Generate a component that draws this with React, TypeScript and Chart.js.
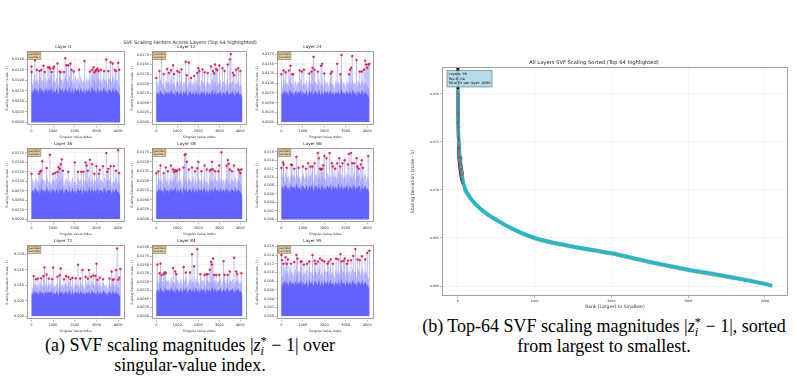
import React, { useEffect, useRef } from "react";
import { Chart, registerables } from "chart.js";
Chart.register(...registerables);

const SANS = "'DejaVu Sans', sans-serif";
const SERIF = "'Liberation Serif', 'Times New Roman', serif";

// ---------------- data ----------------
const LAYER_NAMES = ["Layer 0", "Layer 12", "Layer 24", "Layer 36", "Layer 48", "Layer 66", "Layer 72", "Layer 84", "Layer 95"];
const X_TICKS = [0, 1000, 2000, 3000, 4000];

const L0_IDX = [0, 10, 160, 250, 370, 450, 560, 620, 760, 820, 870, 930, 1000, 1050, 1200, 1300, 1350, 1500, 1560, 1620, 1700, 1800, 1850, 1950, 2200, 2450, 2700, 2800, 2870, 2900, 2950, 3000, 3050, 3100, 3200, 3350, 3450, 3550, 3650, 3750, 3850, 3900, 4000, 4050];
const L0_VAL = [0.0133, 0.0120, 0.0148, 0.0125, 0.0122, 0.0125, 0.0135, 0.0120, 0.0131, 0.0131, 0.0128, 0.0120, 0.0129, 0.0133, 0.0140, 0.0121, 0.0119, 0.0120, 0.0153, 0.0136, 0.0136, 0.0140, 0.0125, 0.0121, 0.0125, 0.0146, 0.0121, 0.0125, 0.0131, 0.0119, 0.0122, 0.0125, 0.0128, 0.0122, 0.0125, 0.0122, 0.0150, 0.0122, 0.0143, 0.0140, 0.0125, 0.0122, 0.0142, 0.0125];

const L12_IDX = [0, 150, 250, 350, 520, 600, 700, 800, 850, 1000, 1100, 1200, 1400, 1450, 1550, 1650, 1800, 1950, 2000, 2050, 2200, 2300, 2450, 2600, 2700, 2750, 2800, 2850, 2900, 3000, 3150, 3250, 3400, 3500, 3550, 3650, 3700, 3800, 3900, 4000];
const L12_VAL = [0.0115, 0.0133, 0.0164, 0.0125, 0.0138, 0.0128, 0.0135, 0.0148, 0.0125, 0.0133, 0.0130, 0.0137, 0.0157, 0.0122, 0.0155, 0.0115, 0.0120, 0.0128, 0.0140, 0.0133, 0.0137, 0.0130, 0.0128, 0.0145, 0.0133, 0.0127, 0.0150, 0.0138, 0.0135, 0.0147, 0.0140, 0.0133, 0.0150, 0.0163, 0.0177, 0.0128, 0.0122, 0.0136, 0.0140, 0.0133];

const L24_IDX = [0, 100, 200, 350, 420, 500, 550, 850, 950, 1050, 1300, 1400, 1450, 1500, 1550, 1700, 1850, 1900, 2000, 2300, 2350, 2600, 2750, 2800, 3150, 3200, 3250, 3300, 3500, 3650, 3750, 3850, 3900, 3950, 4000, 4050, 4100];
const L24_VAL = [0.0123, 0.0133, 0.0128, 0.0133, 0.0145, 0.0123, 0.0123, 0.0133, 0.0130, 0.0135, 0.0125, 0.0130, 0.0140, 0.0168, 0.0135, 0.0130, 0.0145, 0.0150, 0.0125, 0.0125, 0.0130, 0.0150, 0.0123, 0.0173, 0.0123, 0.0135, 0.0140, 0.0170, 0.0160, 0.0130, 0.0130, 0.0135, 0.0158, 0.0148, 0.0140, 0.0148, 0.0150];

const L36_IDX = [0, 350, 400, 450, 500, 700, 850, 1000, 1100, 1200, 1250, 1300, 1350, 1400, 1450, 1700, 2000, 2150, 2300, 2400, 2500, 2550, 2600, 2700, 2800, 2900, 3000, 3100, 3150, 3300, 3450, 3500, 3550, 3650, 3800, 3900, 4000, 4050];
const L36_VAL = [0.0120, 0.0120, 0.0125, 0.0128, 0.0153, 0.0135, 0.0170, 0.0120, 0.0122, 0.0125, 0.0138, 0.0133, 0.0145, 0.0158, 0.0128, 0.0125, 0.0150, 0.0125, 0.0125, 0.0125, 0.0150, 0.0142, 0.0128, 0.0157, 0.0145, 0.0120, 0.0140, 0.0120, 0.0130, 0.0140, 0.0175, 0.0125, 0.0133, 0.0140, 0.0140, 0.0128, 0.0182, 0.0122];

const L48_IDX = [0, 100, 200, 350, 450, 550, 700, 800, 850, 900, 950, 1000, 1100, 1300, 1350, 1400, 1450, 1550, 1700, 1850, 1950, 2000, 2150, 2300, 2400, 2550, 2600, 2650, 2700, 2800, 2950, 3000, 3100, 3350, 3400, 3450, 3500, 3600, 3700, 3900, 3950, 4000, 4050];
const L48_VAL = [0.0120, 0.0125, 0.0140, 0.0120, 0.0135, 0.0125, 0.0140, 0.0130, 0.0123, 0.0128, 0.0125, 0.0127, 0.0130, 0.0135, 0.0168, 0.0170, 0.0150, 0.0130, 0.0135, 0.0125, 0.0133, 0.0150, 0.0125, 0.0140, 0.0130, 0.0127, 0.0130, 0.0150, 0.0130, 0.0125, 0.0125, 0.0140, 0.0175, 0.0140, 0.0155, 0.0145, 0.0130, 0.0125, 0.0140, 0.0130, 0.0127, 0.0120, 0.0130];

const L66_IDX = [0, 80, 100, 250, 450, 500, 600, 700, 800, 1000, 1150, 1250, 1350, 1450, 1550, 1700, 1750, 1800, 1850, 1900, 1950, 2000, 2100, 2250, 2350, 2400, 2500, 2600, 2700, 2750, 2850, 2950, 3100, 3150, 3250, 3300, 3400, 3500, 3550, 3600, 3700, 3750, 3800, 4050];
const L66_VAL = [0.0122, 0.0135, 0.0130, 0.0122, 0.0130, 0.0128, 0.0120, 0.0148, 0.0122, 0.0125, 0.0120, 0.0133, 0.0125, 0.0125, 0.0133, 0.0157, 0.0145, 0.0120, 0.0118, 0.0120, 0.0128, 0.0150, 0.0145, 0.0157, 0.0133, 0.0125, 0.0120, 0.0133, 0.0145, 0.0125, 0.0133, 0.0140, 0.0130, 0.0155, 0.0157, 0.0133, 0.0133, 0.0145, 0.0125, 0.0120, 0.0130, 0.0140, 0.0122, 0.0150];

const L72_IDX = [100, 200, 300, 450, 550, 600, 700, 800, 950, 1000, 1200, 1300, 1350, 1500, 1600, 1700, 1800, 1900, 2050, 2150, 2250, 2350, 2500, 2600, 2650, 2750, 2850, 2950, 3000, 3050, 3150, 3300, 3600, 3700, 3750, 3800, 3900, 3950, 4000, 4050, 4100];
const L72_VAL = [0.0130, 0.0120, 0.0122, 0.0123, 0.0130, 0.0158, 0.0135, 0.0122, 0.0120, 0.0158, 0.0128, 0.0133, 0.0155, 0.0120, 0.0130, 0.0127, 0.0120, 0.0125, 0.0123, 0.0167, 0.0122, 0.0150, 0.0128, 0.0122, 0.0150, 0.0128, 0.0132, 0.0130, 0.0170, 0.0118, 0.0125, 0.0120, 0.0122, 0.0145, 0.0118, 0.0120, 0.0150, 0.0220, 0.0118, 0.0125, 0.0153];

const L84_IDX = [50, 150, 200, 250, 350, 400, 450, 800, 900, 950, 1300, 1400, 1600, 1700, 1800, 1950, 2100, 2300, 2400, 2450, 2550, 2600, 2650, 2700, 2750, 2850, 3000, 3200, 3250, 3400, 3500, 3700, 3800, 3850, 4050];
const L84_VAL = [0.0150, 0.0125, 0.0153, 0.0120, 0.0122, 0.0128, 0.0125, 0.0140, 0.0130, 0.0122, 0.0143, 0.0127, 0.0127, 0.0180, 0.0145, 0.0195, 0.0122, 0.0120, 0.0122, 0.0122, 0.0135, 0.0158, 0.0150, 0.0168, 0.0120, 0.0120, 0.0120, 0.0160, 0.0120, 0.0120, 0.0130, 0.0170, 0.0130, 0.0122, 0.0125];

const L95_IDX = [0, 30, 100, 200, 250, 300, 450, 600, 700, 750, 900, 950, 1050, 1200, 1300, 1450, 1550, 1600, 1700, 1800, 1900, 2000, 2150, 2200, 2300, 2400, 2550, 2650, 2750, 2800, 2900, 2950, 3050, 3100, 3250, 3350, 3450, 3550, 3650, 3750, 3900, 4000, 4100];
const L95_VAL = [0.0140, 0.0128, 0.0120, 0.0135, 0.0120, 0.0130, 0.0120, 0.0124, 0.0140, 0.0132, 0.0125, 0.0125, 0.0118, 0.0120, 0.0125, 0.0140, 0.0127, 0.0120, 0.0125, 0.0132, 0.0128, 0.0125, 0.0120, 0.0125, 0.0130, 0.0120, 0.0132, 0.0130, 0.0142, 0.0125, 0.0127, 0.0132, 0.0120, 0.0127, 0.0128, 0.0138, 0.0154, 0.0130, 0.0128, 0.0137, 0.0130, 0.0145, 0.0150];

const TOP_IDX = [L0_IDX, L12_IDX, L24_IDX, L36_IDX, L48_IDX, L66_IDX, L72_IDX, L84_IDX, L95_IDX];
const TOP_VAL = [L0_VAL, L12_VAL, L24_VAL, L36_VAL, L48_VAL, L66_VAL, L72_VAL, L84_VAL, L95_VAL];

// dense magnitude body (upper light fringe and dark core), sampled across the index
const LIGHT_A = [0.0100, 0.0088, 0.0112, 0.0094, 0.0105, 0.0090, 0.0118, 0.0096, 0.0102, 0.0087, 0.0110, 0.0093, 0.0106, 0.0099, 0.0115, 0.0089, 0.0101, 0.0095, 0.0109, 0.0086, 0.0113, 0.0097, 0.0104, 0.0091, 0.0108, 0.0100, 0.0094, 0.0116, 0.0092, 0.0103, 0.0088, 0.0111, 0.0098, 0.0105, 0.0090, 0.0114, 0.0095, 0.0101, 0.0087, 0.0109, 0.0096, 0.0107, 0.0093, 0.0117, 0.0099, 0.0102, 0.0089, 0.0110, 0.0094, 0.0106, 0.0091, 0.0112, 0.0097, 0.0103, 0.0088, 0.0108, 0.0100, 0.0095, 0.0113, 0.0092, 0.0104, 0.0098, 0.0090, 0.0082];
const CORE_A = [0.0075, 0.0068, 0.0082, 0.0071, 0.0079, 0.0065, 0.0085, 0.0072, 0.0077, 0.0066, 0.0081, 0.0070, 0.0078, 0.0074, 0.0084, 0.0067, 0.0076, 0.0071, 0.0080, 0.0064, 0.0083, 0.0073, 0.0078, 0.0069, 0.0081, 0.0075, 0.0070, 0.0086, 0.0068, 0.0077, 0.0066, 0.0082, 0.0073, 0.0079, 0.0067, 0.0084, 0.0071, 0.0076, 0.0065, 0.0080, 0.0072, 0.0078, 0.0069, 0.0085, 0.0074, 0.0077, 0.0066, 0.0081, 0.0070, 0.0079, 0.0068, 0.0083, 0.0073, 0.0076, 0.0065, 0.0080, 0.0075, 0.0071, 0.0084, 0.0069, 0.0078, 0.0073, 0.0067, 0.0062];
const LIGHT_B = [0.0094, 0.0108, 0.0089, 0.0115, 0.0097, 0.0103, 0.0086, 0.0111, 0.0099, 0.0106, 0.0092, 0.0118, 0.0095, 0.0101, 0.0088, 0.0109, 0.0104, 0.0093, 0.0113, 0.0090, 0.0107, 0.0098, 0.0116, 0.0087, 0.0102, 0.0110, 0.0094, 0.0105, 0.0091, 0.0114, 0.0096, 0.0100, 0.0089, 0.0112, 0.0099, 0.0106, 0.0085, 0.0110, 0.0097, 0.0103, 0.0092, 0.0117, 0.0095, 0.0108, 0.0090, 0.0104, 0.0098, 0.0113, 0.0088, 0.0107, 0.0101, 0.0094, 0.0115, 0.0091, 0.0105, 0.0099, 0.0110, 0.0087, 0.0103, 0.0096, 0.0112, 0.0093, 0.0100, 0.0084];
const CORE_B = [0.0069, 0.0079, 0.0066, 0.0084, 0.0071, 0.0076, 0.0064, 0.0082, 0.0073, 0.0078, 0.0068, 0.0086, 0.0070, 0.0075, 0.0065, 0.0080, 0.0077, 0.0068, 0.0083, 0.0067, 0.0079, 0.0072, 0.0085, 0.0064, 0.0075, 0.0081, 0.0069, 0.0077, 0.0067, 0.0084, 0.0071, 0.0074, 0.0066, 0.0082, 0.0073, 0.0078, 0.0063, 0.0081, 0.0072, 0.0076, 0.0068, 0.0086, 0.0070, 0.0079, 0.0067, 0.0077, 0.0072, 0.0083, 0.0065, 0.0079, 0.0074, 0.0069, 0.0085, 0.0067, 0.0077, 0.0073, 0.0081, 0.0064, 0.0076, 0.0071, 0.0082, 0.0069, 0.0074, 0.0061];
const BODY_OF_LAYER = [0, 1, 0, 1, 0, 1, 0, 1, 0];

// per-layer axis limits / ticks
const Y_MIN = [-0.0008, -0.0009, -0.0009, -0.0009, -0.0009, -0.0008, -0.0011, -0.0010, -0.0008];
const Y_MAX = [0.0170, 0.0185, 0.0183, 0.0188, 0.0186, 0.0169, 0.0231, 0.0207, 0.0163];
const Y_STEP = [0.0025, 0.0025, 0.0025, 0.0025, 0.0025, 0.002, 0.005, 0.0025, 0.002];
const Y_TOP = [0.0150, 0.0175, 0.0175, 0.0175, 0.0175, 0.016, 0.020, 0.020, 0.016];
const Y_DEC = [4, 4, 4, 4, 4, 3, 3, 4, 3];
const STAT_MEAN = ["0.0044", "0.0043", "0.0044", "0.0043", "0.0044", "0.0045", "0.0044", "0.0043", "0.0046"];
const STAT_STD = ["0.0027", "0.0027", "0.0028", "0.0027", "0.0027", "0.0028", "0.0028", "0.0027", "0.0029"];

// right panel: sorted curves
const RANKS = [0, 5, 10, 20, 30, 40, 50, 64, 80, 100, 150, 200, 300, 400, 500, 700, 1000, 1500, 2000, 2500, 3000, 3500, 4000, 4095];
const SORTED_TEAL = [0.0205, 0.0172, 0.0158, 0.0141, 0.0131, 0.0124, 0.0118, 0.0111, 0.0105, 0.0100, 0.0093, 0.0088, 0.0080, 0.0074, 0.0069, 0.0060, 0.0050, 0.0041, 0.0034, 0.0025, 0.0017, 0.0010, 0.0002, 0.0000];
const SORTED_PINK = [0.0210, 0.0176, 0.0161, 0.0144, 0.0133, 0.0126, 0.0120, 0.0113, 0.0107, 0.0102, 0.0095, 0.0089, 0.0081, 0.0075, 0.0070, 0.0061, 0.0051, 0.0042, 0.0035, 0.0026, 0.0018, 0.0011, 0.0003, 0.0001];
const SORTED_ORANGE = [0.0200, 0.0168, 0.0155, 0.0139, 0.0129, 0.0122, 0.0116, 0.0109, 0.0103, 0.0098, 0.0092, 0.0087, 0.0079, 0.0073, 0.0068, 0.0059, 0.0049, 0.0040, 0.0033, 0.0024, 0.0016, 0.0009, 0.0002, 0.0000];
const TOPK_RANKS = [0, 3, 6, 10, 15, 20, 30, 40, 50, 63];
const TOPK_HI = [0.0228, 0.0200, 0.0180, 0.0165, 0.0152, 0.0144, 0.0134, 0.0127, 0.0122, 0.0116];
const TOPK_LO = [0.0200, 0.0170, 0.0155, 0.0143, 0.0134, 0.0128, 0.0120, 0.0115, 0.0111, 0.0107];
const SORTED_Y_TICKS = [0, 0.005, 0.01, 0.015, 0.02];
const INFO_LINES = ["Layers: 96", "Top-K: 64", "Total SV per layer: 4096"];

// ---------------- layout ----------------
const COL_L = [27, 152, 277];
const COL_R = [126, 248, 375];
const ROW_T = [51, 148, 245];
const ROW_B = [125, 222, 319];

// ---------------- helpers ----------------
const pts = (xs: number[], ys: number[]) => xs.map((x, i) => ({ x, y: ys[i] }));

function framePlugin(color: string) {
  return {
    id: "frame",
    afterDatasetsDraw(chart: any) {
      const { ctx, chartArea: a } = chart;
      ctx.save();
      ctx.strokeStyle = color;
      ctx.lineWidth = 1;
      ctx.strokeRect(Math.round(a.left) + 0.5, Math.round(a.top) + 0.5, Math.round(a.right - a.left) - 1, Math.round(a.bottom - a.top) - 1);
      ctx.restore();
    },
  };
}

function boxPlugin(lines: string[], size: number, fill: string, stroke: string, dx: number, dy: number) {
  return {
    id: "infobox",
    afterDraw(chart: any) {
      const { ctx, chartArea: a } = chart;
      ctx.save();
      ctx.font = `${size}px ${SANS}`;
      const lh = size * 1.25;
      const pad = size * 0.45;
      const w = Math.max(...lines.map((l) => ctx.measureText(l).width)) + pad * 2;
      const h = lines.length * lh + pad * 2;
      const x = a.left + dx;
      const y = a.top + dy;
      ctx.fillStyle = fill;
      ctx.strokeStyle = stroke;
      ctx.lineWidth = 0.6;
      ctx.fillRect(x, y, w, h);
      ctx.strokeRect(x, y, w, h);
      ctx.fillStyle = "#111";
      ctx.textBaseline = "middle";
      lines.forEach((l, i) => ctx.fillText(l, x + pad, y + pad + lh * (i + 0.5)));
      ctx.restore();
    },
  };
}

function ChartCanvas({ left, top, width, height, make }: any) {
  const ref = useRef<HTMLCanvasElement>(null);
  useEffect(() => {
    const chart = new Chart(ref.current as HTMLCanvasElement, make());
    return () => chart.destroy();
  }, []);
  return (
    <canvas
      ref={ref}
      width={width}
      height={height}
      style={{ position: "absolute", left, top, width, height }}
    />
  );
}

const GRID = { color: "rgba(0,0,0,0.07)", lineWidth: 0.6, tickColor: "#888", tickWidth: 0.6, tickLength: 2 };

function subplotConfig(k: number) {
  const idx = TOP_IDX[k];
  const val = TOP_VAL[k];
  const light = BODY_OF_LAYER[k] === 0 ? LIGHT_A : LIGHT_B;
  const core = BODY_OF_LAYER[k] === 0 ? CORE_A : CORE_B;
  const mid = BODY_OF_LAYER[k] === 0 ? CORE_B : CORE_A;
  const bodyX = light.map((_, i) => Math.round((i * 4095) / (light.length - 1)));
  const spikes: any[] = [];
  idx.forEach((x, i) => {
    spikes.push({ x, y: 0 }, { x, y: val[i] }, { x, y: null });
  });
  const yTicks: number[] = [];
  for (let v = 0; v <= Y_TOP[k] + 1e-9; v += Y_STEP[k]) yTicks.push(+v.toFixed(6));
  const dec = Y_DEC[k];
  return {
    type: "line",
    data: {
      datasets: [
        { data: pts(idx, val), showLine: false, pointRadius: 1.0, pointBackgroundColor: "#ff2448", pointBorderColor: "#b5001f", pointBorderWidth: 0.35, order: 1 },
        { data: pts(bodyX, core), borderWidth: 0, pointRadius: 0, fill: "origin", backgroundColor: "rgba(96,96,255,0.95)", order: 2 },
        { data: pts(bodyX, mid), borderWidth: 0, pointRadius: 0, fill: "origin", backgroundColor: "rgb(138,138,255)", order: 3 },
        { data: spikes, borderColor: "rgba(150,150,255,0.8)", borderWidth: 0.8, pointRadius: 0, spanGaps: false, order: 4 },
        { data: pts(bodyX, light), borderWidth: 0, pointRadius: 0, fill: "origin", backgroundColor: "rgb(190,190,255)", order: 5 },
      ],
    },
    options: {
      animation: false,
      responsive: false,
      events: [],
      layout: { padding: { left: 0, right: 3, top: 0, bottom: 0 } },
      plugins: {
        legend: { display: false },
        tooltip: { enabled: false },
        title: { display: true, text: LAYER_NAMES[k], color: "#222", font: { family: SANS, size: 4.2, weight: "normal" }, padding: { top: 0.5, bottom: 1.5 } },
      },
      scales: {
        x: {
          type: "linear",
          min: -205,
          max: 4300,
          afterBuildTicks: (s: any) => { s.ticks = X_TICKS.map((v) => ({ value: v })); },
          afterFit: (s: any) => { s.height = 13.5; },
          ticks: { font: { family: SANS, size: 3.5 }, color: "#333", padding: 1, maxRotation: 0, autoSkip: false, callback: (v: any) => String(v) },
          grid: GRID,
          border: { display: false },
          title: { display: true, text: "Singular Value Index", color: "#333", font: { family: SANS, size: 3.2 }, padding: 0 },
        },
        y: {
          type: "linear",
          min: Y_MIN[k],
          max: Y_MAX[k],
          afterBuildTicks: (s: any) => { s.ticks = yTicks.map((v) => ({ value: v })); },
          afterFit: (s: any) => { s.width = 27; },
          ticks: { font: { family: SANS, size: 3.5 }, color: "#333", padding: 1, autoSkip: false, callback: (v: any) => Number(v).toFixed(dec) },
          grid: GRID,
          border: { display: false },
          title: { display: true, text: "Scaling Deviation (scale - 1)", color: "#333", font: { family: SANS, size: 3.2 }, padding: { top: 5.1, bottom: 0 } },
        },
      },
    },
    plugins: [
      framePlugin("#a0a0a0"),
      boxPlugin([`μ=${STAT_MEAN[k]}`, `σ=${STAT_STD[k]}`], 2.2, "rgba(222,200,158,0.92)", "#8a7350", 1, 1),
    ],
  };
}

function sortedConfig() {
  const line = (ys: number[], color: string, width: number, order: number) => ({
    data: pts(RANKS, ys),
    borderColor: color,
    borderWidth: width,
    pointRadius: 0,
    cubicInterpolationMode: "monotone",
    order,
  });
  return {
    type: "line",
    data: {
      datasets: [
        { data: pts(TOPK_RANKS, TOPK_HI), borderColor: "rgba(255,30,50,0.9)", borderWidth: 1.2, borderDash: [1, 1.2], pointRadius: 0.9, pointBackgroundColor: "#ff2030", pointBorderWidth: 0, order: 1 },
        { data: pts(TOPK_RANKS, TOPK_LO), borderColor: "rgba(255,30,50,0.9)", borderWidth: 1.0, borderDash: [1, 1.2], pointRadius: 0.9, pointBackgroundColor: "#ff2030", pointBorderWidth: 0, order: 1 },
        line(SORTED_TEAL, "#17becf", 3.6, 2),
        { data: pts(TOPK_RANKS, TOPK_HI), borderColor: "#000", borderWidth: 2.6, pointRadius: 0, order: 3 },
        { data: pts(TOPK_RANKS, TOPK_LO), borderColor: "#000", borderWidth: 2.6, pointRadius: 0, order: 3 },
        line(SORTED_PINK, "rgba(227,119,194,0.75)", 2.6, 4),
        line(SORTED_ORANGE, "rgba(255,127,14,0.7)", 2.6, 5),
      ],
    },
    options: {
      animation: false,
      responsive: false,
      events: [],
      layout: { padding: { left: 0, right: 9, top: 0, bottom: 0 } },
      plugins: {
        legend: { display: false },
        tooltip: { enabled: false },
        title: { display: true, text: "All Layers SVF Scaling Sorted (Top 64 highlighted)", color: "#222", font: { family: SANS, size: 5.2, weight: "normal" }, padding: { top: 0.3, bottom: 1.46 } },
      },
      scales: {
        x: {
          type: "linear",
          min: -205,
          max: 4300,
          afterBuildTicks: (s: any) => { s.ticks = X_TICKS.map((v) => ({ value: v })); },
          afterFit: (s: any) => { s.height = 14; },
          ticks: { font: { family: SANS, size: 3.2 }, color: "#333", padding: 0.8, maxRotation: 0, autoSkip: false, callback: (v: any) => String(v) },
          grid: GRID,
          border: { display: false },
          title: { display: true, text: "Rank (Largest to Smallest)", color: "#333", font: { family: SANS, size: 4.5 }, padding: 0 },
        },
        y: {
          type: "linear",
          min: -0.00104,
          max: 0.0228,
          afterBuildTicks: (s: any) => { s.ticks = SORTED_Y_TICKS.map((v) => ({ value: v })); },
          afterFit: (s: any) => { s.width = 42; },
          ticks: { font: { family: SANS, size: 3.2 }, color: "#333", padding: 1, autoSkip: false, callback: (v: any) => Number(v).toFixed(3) },
          grid: GRID,
          border: { display: false },
          title: { display: true, text: "Scaling Deviation (scale - 1)", color: "#333", font: { family: SANS, size: 4.5 }, padding: { top: 10.3, bottom: 0 } },
        },
      },
    },
    plugins: [
      framePlugin("#a0a0a0"),
      boxPlugin(INFO_LINES, 3.5, "rgba(173,216,230,0.9)", "#4a6b7a", 5, 3.7),
    ],
  };
}

const ZI = () => (
  <span>
    |<i>z</i>
    <span style={{ display: "inline-block", fontSize: "0.7em", lineHeight: "0.8em", verticalAlign: "-0.35em", textAlign: "left" }}>
      <span style={{ display: "block" }}>*</span>
      <span style={{ display: "block" }}><i>i</i></span>
    </span>
    {" "}− 1|
  </span>
);

export default function App() {
  const panels: any[] = [];
  for (let k = 0; k < 9; k++) {
    const r = Math.floor(k / 3);
    const c = k % 3;
    const left = COL_L[c] - 27;
    const top = ROW_T[r] - 7;
    const width = COL_R[c] - COL_L[c] + 27 + 3;
    const height = 7 + (ROW_B[r] - ROW_T[r]) + 14;
    panels.push(<ChartCanvas key={k} left={left} top={top} width={width} height={height} make={() => subplotConfig(k)} />);
  }
  return (
    <div style={{ position: "fixed", left: 0, top: 0, width: 797, height: 382, background: "#fff", overflow: "hidden" }}>
      <div style={{ position: "absolute", left: 40, top: 38.5, width: 300, textAlign: "center", fontFamily: SANS, fontSize: 4.9, lineHeight: "6px", color: "#222", whiteSpace: "nowrap" }}>
        SVF Scaling Factors Across Layers (Top 64 highlighted)
      </div>
      {panels}
      <ChartCanvas left={400} top={59} width={397} height={251} make={sortedConfig} />
      <div style={{ position: "absolute", left: 0, top: 336, width: 380, textAlign: "center", fontFamily: SERIF, fontSize: 18, lineHeight: "18px", color: "#000", whiteSpace: "nowrap" }}>
        (a) SVF scaling magnitudes <ZI /> over
        <br />
        singular-value index.
      </div>
      <div style={{ position: "absolute", left: 404, top: 317, width: 400, textAlign: "center", fontFamily: SERIF, fontSize: 18, lineHeight: "19px", color: "#000", whiteSpace: "nowrap" }}>
        (b) Top-64 SVF scaling magnitudes <ZI />, sorted
        <br />
        from largest to smallest.
      </div>
    </div>
  );
}
